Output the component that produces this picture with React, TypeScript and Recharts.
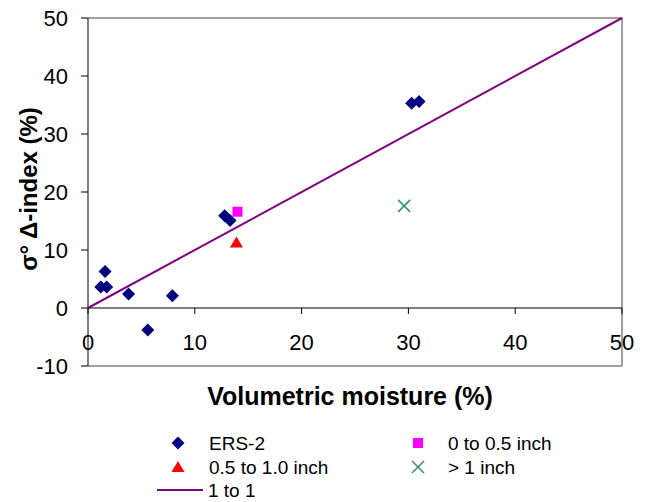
import React from 'react';
import { ScatterChart, Scatter, XAxis, YAxis, ReferenceLine, Legend, Label } from 'recharts';

// ---- Data ----
const xTicks = [0, 10, 20, 30, 40, 50];
const yTicks = [-10, 0, 10, 20, 30, 40, 50];

const ersX = [1.2, 1.75, 1.6, 3.8, 7.9, 5.6, 12.8, 13.3, 30.3, 31.0];
const ersY = [3.6, 3.6, 6.3, 2.4, 2.1, -3.8, 15.9, 15.1, 35.3, 35.6];
const shallowX = [14.0];
const shallowY = [16.6];
const midX = [13.9];
const midY = [11.3];
const deepX = [29.6];
const deepY = [17.6];
const oneX = [0, 50];
const oneY = [0, 50];

const seriesNames = ['ERS-2', '0 to 0.5 inch', '0.5 to 1.0 inch', '> 1 inch', '1 to 1'];

const toPoints = (xs: number[], ys: number[]) => xs.map((x, i) => ({ x, y: ys[i] }));
const ersData = toPoints(ersX, ersY);
const shallowData = toPoints(shallowX, shallowY);
const midData = toPoints(midX, midY);
const deepData = toPoints(deepX, deepY);
const oneData = toPoints(oneX, oneY);

// ---- Style ----
const X_MIN = 0, X_MAX = 50, Y_MIN = -10, Y_MAX = 50;
const W = 647, H = 502;
const MARGIN = { top: 18, right: 25, bottom: 76, left: 0 };
const YAXIS_W = 88;
const XAXIS_H = 60;
const PLOT_H = H - MARGIN.top - MARGIN.bottom - XAXIS_H;
const FONT = '"Liberation Sans", Arial, sans-serif';
const NAVY = '#000080';
const MAGENTA = '#ff00ff';
const RED = '#ff0000';
const GREEN = '#339966';
const PURPLE = '#800080';
const FRAME = '#808080';

const Diamond = ({ cx, cy }: any) => (
  <polygon points={`${cx},${cy - 6.5} ${cx + 6.5},${cy} ${cx},${cy + 6.5} ${cx - 6.5},${cy}`} fill={NAVY} />
);
const Square = ({ cx, cy }: any) => <rect x={cx - 5} y={cy - 5} width={10} height={10} fill={MAGENTA} />;
const Triangle = ({ cx, cy }: any) => (
  <polygon points={`${cx},${cy - 6} ${cx + 6.5},${cy + 5} ${cx - 6.5},${cy + 5}`} fill={RED} />
);
const Cross = ({ cx, cy }: any) => (
  <g stroke={GREEN} strokeWidth={1.6}>
    <line x1={cx - 6} y1={cy - 6} x2={cx + 6} y2={cy + 6} />
    <line x1={cx - 6} y1={cy + 6} x2={cx + 6} y2={cy - 6} />
  </g>
);
const NoShape = () => <g />;

const XTick = (props: any) => {
  const { x, y, payload } = props;
  const zeroY = y - (PLOT_H * (0 - Y_MIN)) / (Y_MAX - Y_MIN);
  return (
    <g>
      <line x1={x} x2={x} y1={zeroY} y2={zeroY + 6} stroke="#000" />
      <text x={x} y={zeroY + 26} dy="0.71em" textAnchor="middle" fontSize={22} fill="#000" fontFamily={FONT}>
        {payload.value}
      </text>
    </g>
  );
};

const legendItems = [
  { name: seriesNames[0], Icon: Diamond, col: 0, row: 0 },
  { name: seriesNames[1], Icon: Square, col: 1, row: 0 },
  { name: seriesNames[2], Icon: Triangle, col: 0, row: 1 },
  { name: seriesNames[3], Icon: Cross, col: 1, row: 1 },
];

const LegendContent = () => {
  const colIcon = [178, 418];
  const colText = [209, 448];
  const rowY = [13, 37, 60];
  return (
    <svg width={W} height={72} style={{ display: 'block' }}>
      {legendItems.map((it) => (
        <g key={it.name}>
          <it.Icon cx={colIcon[it.col]} cy={rowY[it.row]} />
          <text x={colText[it.col]} y={rowY[it.row]} dy="0.35em" fontSize={19} fill="#000" fontFamily={FONT}>
            {it.name}
          </text>
        </g>
      ))}
      <line x1={157} x2={203} y1={rowY[2]} y2={rowY[2]} stroke={PURPLE} strokeWidth={2} />
      <text x={208} y={rowY[2]} dy="0.35em" fontSize={19} fill="#000" fontFamily={FONT}>
        {seriesNames[4]}
      </text>
    </svg>
  );
};

export default function App() {
  return (
    <div style={{ position: 'absolute', left: 0, top: 0, fontFamily: FONT, background: '#fff' }}>
      <ScatterChart width={W} height={H} margin={MARGIN}>
        <XAxis
          type="number"
          dataKey="x"
          domain={[X_MIN, X_MAX]}
          ticks={xTicks}
          axisLine={false}
          tickLine={false}
          tickSize={0}
          tickMargin={0}
          height={XAXIS_H}
          tick={<XTick />}
          interval={0}
        >
          <Label
            content={(p: any) => {
              const vb = p.viewBox;
              return (
                <text
                  x={vb.x + vb.width / 2 - 5}
                  y={vb.y + 39}
                  textAnchor="middle"
                  fontSize={25}
                  fontWeight="bold"
                  fill="#000"
                  fontFamily={FONT}
                >
                  Volumetric moisture (%)
                </text>
              );
            }}
          />
        </XAxis>
        <YAxis
          type="number"
          dataKey="y"
          domain={[Y_MIN, Y_MAX]}
          ticks={yTicks}
          width={YAXIS_W}
          axisLine={{ stroke: '#000' }}
          tickLine={{ stroke: '#000' }}
          tickSize={7}
          tickMargin={13}
          tick={{ fontSize: 22, fill: '#000', fontFamily: FONT }}
          interval={0}
        >
          <Label
            content={(p: any) => {
              const vb = p.viewBox;
              const cx = vb.x + 37;
              const cy = vb.y + vb.height / 2 - 3;
              return (
                <text
                  x={cx}
                  y={cy}
                  transform={`rotate(-90 ${cx} ${cy})`}
                  textAnchor="middle"
                  fontSize={24}
                  fontWeight="bold"
                  fill="#000"
                  fontFamily={FONT}
                >
                  σ° Δ-index (%)
                </text>
              );
            }}
          />
        </YAxis>
        <ReferenceLine y={Y_MAX} stroke={FRAME} strokeWidth={1.5} />
        <ReferenceLine y={Y_MIN} stroke={FRAME} strokeWidth={1.5} />
        <ReferenceLine x={X_MAX} stroke={FRAME} strokeWidth={1.5} />
        <ReferenceLine y={0} stroke="#000" />
        <Scatter
          name={seriesNames[4]}
          data={oneData}
          line={{ stroke: PURPLE, strokeWidth: 2 }}
          shape={NoShape}
          isAnimationActive={false}
        />
        <Scatter name={seriesNames[0]} data={ersData} shape={Diamond} isAnimationActive={false} />
        <Scatter name={seriesNames[1]} data={shallowData} shape={Square} isAnimationActive={false} />
        <Scatter name={seriesNames[2]} data={midData} shape={Triangle} isAnimationActive={false} />
        <Scatter name={seriesNames[3]} data={deepData} shape={Cross} isAnimationActive={false} />
        <Legend
          layout="horizontal"
          verticalAlign="middle"
          content={<LegendContent />}
          wrapperStyle={{ left: 0, top: 430, width: W }}
        />
      </ScatterChart>
    </div>
  );
}
